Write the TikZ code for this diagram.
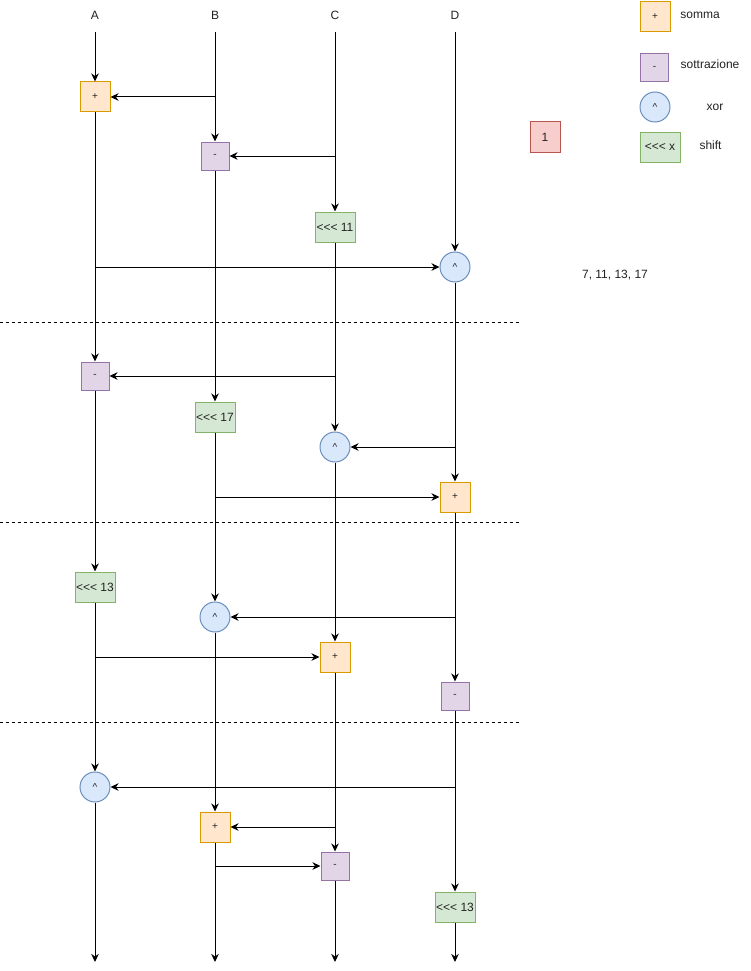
\documentclass[tikz,border=0pt]{standalone}
\usepackage{fontspec}
\setmainfont{Liberation Sans}
\usetikzlibrary{arrows.meta}
\definecolor{orF}{HTML}{FFE6CC}
\definecolor{orD}{HTML}{D79B00}
\definecolor{puF}{HTML}{E1D5E7}
\definecolor{puD}{HTML}{9673A6}
\definecolor{blF}{HTML}{DAE8FC}
\definecolor{blD}{HTML}{6C8EBF}
\definecolor{grF}{HTML}{D5E8D4}
\definecolor{grD}{HTML}{82B366}
\definecolor{reF}{HTML}{F8CECC}
\definecolor{reD}{HTML}{B85450}
\definecolor{txt}{HTML}{222222}
\newcommand{\lsh}{\mbox{<}\mbox{<}\mbox{<}}
\tikzset{
  arr/.style={draw=black, line width=1pt, -{Stealth[length=8pt,width=7.5pt,inset=2.5pt]}},
  box/.style={draw, line width=1pt, inner sep=0pt, text=txt, font=\fontsize{10}{11}\selectfont},
  addbox/.style={box, fill=orF, draw=orD, minimum width=30pt, minimum height=30pt},
  subbox/.style={box, fill=puF, draw=puD, minimum width=28pt, minimum height=28pt},
  xorbox/.style={box, circle, fill=blF, draw=blD, minimum size=30pt},
  shbox/.style={box, fill=grF, draw=grD, minimum width=40pt, minimum height=30pt, font=\fontsize{12}{13}\selectfont},
  onebox/.style={box, fill=reF, draw=reD, minimum width=30pt, minimum height=30pt, font=\fontsize{12}{13}\selectfont},
  lbl/.style={inner sep=0pt, text=txt, font=\fontsize{12}{13}\selectfont},
  leglbl/.style={inner sep=0pt, text=txt, font=\fontsize{12}{14}\selectfont},
  sep/.style={draw=black, line width=0.8pt, dash pattern=on 3pt off 3pt},
}
\begin{document}
\begin{tikzpicture}[x=1pt,y=-1pt]
\useasboundingbox (0,0) rectangle (751,971);

% column labels
\node[lbl] (lA) at (95,15) {A};
\node[lbl] (lB) at (215,15) {B};
\node[lbl] (lC) at (335,15) {C};
\node[lbl] (lD) at (455,15) {D};

% top and bottom coordinates
\foreach \n/\x in {A/95,B/215,C/335,D/455}{
  \coordinate (t\n) at (\x,32);
  \coordinate (b\n) at (\x,962);
}

% separators
\coordinate (s1l) at (0,322); \coordinate (s1r) at (520,322);
\coordinate (s2l) at (0,522); \coordinate (s2r) at (520,522);
\coordinate (s3l) at (0,722); \coordinate (s3r) at (520,722);
\draw[sep] (s1l) -- (s1r);
\draw[sep] (s2l) -- (s2r);
\draw[sep] (s3l) -- (s3r);

% round 1
\node[addbox] (a1) at (95,97) {+};
\node[subbox] (b1) at (215,156) {-};
\node[shbox] (c1) at (335,227) {\lsh{} 11};
\node[xorbox] (d1) at (455,267) {\textasciicircum};

% round 2
\node[subbox] (a2) at (95,376) {-};
\node[shbox] (b2) at (215,417) {\lsh{} 17};
\node[xorbox] (c2) at (335,447) {\textasciicircum};
\node[addbox] (d2) at (455,497) {+};

% round 3
\node[shbox] (a3) at (95,587) {\lsh{} 13};
\node[xorbox] (b3) at (215,617) {\textasciicircum};
\node[addbox] (c3) at (335,657) {+};
\node[subbox] (d3) at (455,696) {-};

% round 4
\node[xorbox] (a4) at (95,787) {\textasciicircum};
\node[addbox] (b4) at (215,827) {+};
\node[subbox] (c4) at (335,866) {-};
\node[shbox] (d4) at (455,907) {\lsh{} 13};

% vertical chains
\draw[arr] (tA) -- (a1); \draw[arr] (a1) -- (a2); \draw[arr] (a2) -- (a3); \draw[arr] (a3) -- (a4); \draw[arr] (a4) -- (bA);
\draw[arr] (tB) -- (b1); \draw[arr] (b1) -- (b2); \draw[arr] (b2) -- (b3); \draw[arr] (b3) -- (b4); \draw[arr] (b4) -- (bB);
\draw[arr] (tC) -- (c1); \draw[arr] (c1) -- (c2); \draw[arr] (c2) -- (c3); \draw[arr] (c3) -- (c4); \draw[arr] (c4) -- (bC);
\draw[arr] (tD) -- (d1); \draw[arr] (d1) -- (d2); \draw[arr] (d2) -- (d3); \draw[arr] (d3) -- (d4); \draw[arr] (d4) -- (bD);

% horizontal taps
\coordinate (h1) at (215,97);
\coordinate (h2) at (335,156);
\coordinate (h3) at (95,267);
\coordinate (h4) at (335,376);
\coordinate (h5) at (455,447);
\coordinate (h6) at (215,497);
\coordinate (h7) at (455,617);
\coordinate (h8) at (95,657);
\coordinate (h9) at (455,787);
\coordinate (h10) at (335,827);
\coordinate (h11) at (215,866);
\draw[arr] (h1) -- (a1);
\draw[arr] (h2) -- (b1);
\draw[arr] (h3) -- (d1);
\draw[arr] (h4) -- (a2);
\draw[arr] (h5) -- (c2);
\draw[arr] (h6) -- (d2);
\draw[arr] (h7) -- (b3);
\draw[arr] (h8) -- (c3);
\draw[arr] (h9) -- (a4);
\draw[arr] (h10) -- (b4);
\draw[arr] (h11) -- (c4);

% legend
\node[addbox] (gAdd) at (655,17) {+};
\node[leglbl] (gAddT) at (700,15) {somma};
\node[subbox] (gSub) at (654.5,68) {-};
\node[leglbl] (gSubT) at (710,64) {sottrazione};
\node[xorbox] (gXor) at (655,107) {\textasciicircum};
\node[leglbl] (gXorT) at (715,107) {xor};
\node[shbox] (gSh) at (660,147) {\lsh{} x};
\node[leglbl] (gShT) at (710.5,145) {shift};
\node[onebox] (one) at (545,137) {1};
\node[lbl] (primes) at (615,275) {7, 11, 13, 17};
\end{tikzpicture}
\end{document}
